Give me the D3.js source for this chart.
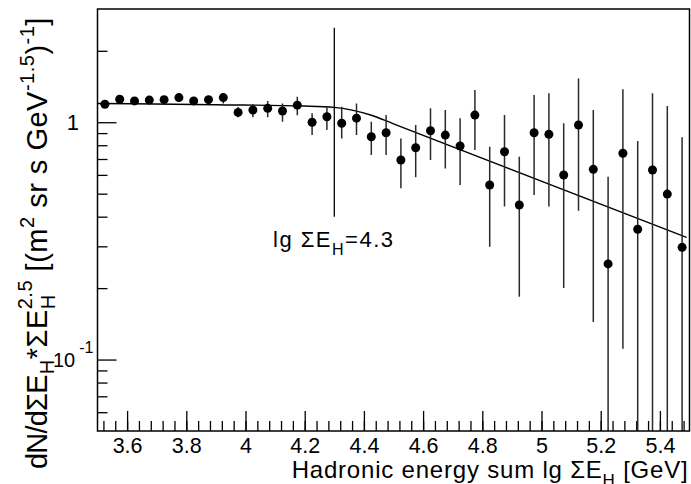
<!DOCTYPE html>
<html>
<head>
<meta charset="utf-8">
<script src="https://cdn.jsdelivr.net/npm/d3@7"></script>
<style>
  body { margin: 0; background: #fff; }
  text { font-family: "Liberation Sans", Arial, Helvetica, sans-serif; fill: #000; }
</style>
</head>
<body>
<div id="chart"></div>
<script>
// hadronic energy bins (lg sum E_H) and flux * E^2.5
const energy = [3.525, 3.575, 3.625, 3.675, 3.725, 3.775, 3.825, 3.875, 3.925, 3.975,
                4.025, 4.075, 4.125, 4.175, 4.225, 4.275, 4.325, 4.375, 4.425, 4.475,
                4.525, 4.575, 4.625, 4.675, 4.725, 4.775, 4.825, 4.875, 4.925, 4.975,
                5.025, 5.075, 5.125, 5.175, 5.225, 5.275, 5.325, 5.375, 5.425, 5.475]
const flux = [1.19, 1.25, 1.23, 1.24, 1.245, 1.27, 1.23, 1.245, 1.27, 1.10,
              1.126, 1.144, 1.115, 1.18, 1.00, 1.055, 0.99, 1.04, 0.869, 0.903,
              0.693, 0.781, 0.921, 0.883, 0.794, 1.072, 0.544, 0.751, 0.448, 0.903,
              0.889, 0.599, 0.973, 0.633, 0.253, 0.740, 0.354, 0.629, 0.498, 0.297]
const errLow = [1.16, 1.22, 1.20, 1.21, 1.215, 1.24, 1.20, 1.215, 1.20, 1.05,
                1.05, 1.05, 1.005, 1.07, 0.883, 0.927, 0.855, 0.883, 0.727, 0.727,
                0.527, 0.586, 0.693, 0.639, 0.544, 0.764, 0.299, 0.441, 0.184, 0.494,
                0.441, 0.20, 0.424, 0.144, 0.01, 0.111, 0.01, 0.01, 0.01, 0.01]
const errHigh = [1.22, 1.28, 1.26, 1.27, 1.275, 1.30, 1.26, 1.275, 1.32, 1.16,
                 1.19, 1.23, 1.20, 1.28, 1.09, 1.163, 1.163, 1.20, 1.005, 1.072,
                 0.855, 0.973, 1.144, 1.126, 1.039, 1.367, 0.788, 1.072, 0.716, 1.302,
                 1.324, 0.99, 1.53, 1.126, 0.589, 1.376, 0.833, 1.324, 1.17, 0.864]

// fitted broken power law
const fitE = [3.5, 3.9, 4.2, 4.3, 4.36, 4.42, 4.5, 5.49]
const fitFlux = [1.20, 1.185, 1.17, 1.155, 1.125, 1.075, 0.985, 0.327]

// knee marker
const kneeE = 4.3
const kneeRange = [0.4, 2.5]

const xMajor = [3.6, 3.8, 4, 4.2, 4.4, 4.6, 4.8, 5, 5.2, 5.4]
const xMinor = d3.range(3.52, 5.5, 0.04).map(d => +d.toFixed(2))
const yMajor = [0.1, 1]
const yMinor = [0.06, 0.07, 0.08, 0.09, 0.2, 0.3, 0.4, 0.5, 0.6, 0.7, 0.8, 0.9, 2]

const width = 691
const height = 484
const plot = { left: 97.5, right: 689.5, top: 9, bottom: 431 }

const svg = d3.select("#chart").append("svg")
  .attr("width", width)
  .attr("height", height)

const x = d3.scaleLinear().domain([3.5, 5.5]).range([plot.left, plot.right])
const y = d3.scaleLog().domain([0.05, 3]).range([plot.bottom, plot.top])

svg.append("clipPath").attr("id", "clip")
  .append("rect")
    .attr("x", plot.left).attr("y", plot.top)
    .attr("width", plot.right - plot.left)
    .attr("height", plot.bottom - plot.top)

// axes (ticks point inward)
const xAxisMinor = svg.append("g")
  .attr("transform", `translate(0,${plot.bottom})`)
  .call(d3.axisBottom(x).tickValues(xMinor).tickSize(-10).tickSizeOuter(0).tickFormat(""))
const xAxis = svg.append("g")
  .attr("transform", `translate(0,${plot.bottom})`)
  .call(d3.axisBottom(x).tickValues(xMajor).tickSize(-20).tickSizeOuter(0)
    .tickPadding(7).tickFormat(d3.format("~g")))
xAxis.selectAll("text").style("font-size", "21.5px")

const yAxisMinor = svg.append("g")
  .attr("transform", `translate(${plot.left},0)`)
  .call(d3.axisLeft(y).tickValues(yMinor).tickSize(-10).tickSizeOuter(0).tickFormat(""))
const yAxis = svg.append("g")
  .attr("transform", `translate(${plot.left},0)`)
  .call(d3.axisLeft(y).tickValues(yMajor).tickSize(-19).tickSizeOuter(0).tickFormat(""))

svg.selectAll(".domain").remove()
svg.selectAll(".tick line").attr("stroke", "#000").attr("stroke-width", 1.3)

// y tick labels: 1 and 10^-1
svg.append("text")
  .attr("x", 79).attr("y", y(1) + 8)
  .attr("text-anchor", "end")
  .style("font-size", "22px")
  .text("1")
const tenLabel = svg.append("text")
  .attr("x", 53).attr("y", y(0.1) + 7)
  .style("font-size", "20px")
tenLabel.append("tspan").text("10")
tenLabel.append("tspan").attr("dx", 4).attr("dy", -14)
  .style("font-size", "16px").text("-1")

// fit curve
const fitLine = d3.line()
  .x(d => x(d[0]))
  .y(d => y(d[1]))
  .curve(d3.curveMonotoneX)
svg.append("path")
  .attr("d", fitLine(fitE.map((e, i) => [e, fitFlux[i]])))
  .attr("fill", "none")
  .attr("stroke", "#000")
  .attr("stroke-width", 1.4)

// knee marker line
svg.append("line")
  .attr("x1", x(kneeE)).attr("x2", x(kneeE))
  .attr("y1", y(kneeRange[1])).attr("y2", y(kneeRange[0]))
  .attr("stroke", "#000")
  .attr("stroke-width", 1.3)

// error bars and points
const bars = svg.append("g").attr("clip-path", "url(#clip)")
bars.selectAll("line")
  .data(energy)
  .join("line")
    .attr("x1", d => x(d)).attr("x2", d => x(d))
    .attr("y1", (d, i) => y(Math.max(errLow[i], 0.04)))
    .attr("y2", (d, i) => y(errHigh[i]))
    .attr("stroke", "#2a2a2a")
    .attr("stroke-width", 1.5)

svg.append("g").selectAll("circle")
  .data(energy)
  .join("circle")
    .attr("cx", d => x(d))
    .attr("cy", (d, i) => y(flux[i]))
    .attr("r", 4.5)
    .attr("fill", "#000")

// frame
svg.append("rect")
  .attr("x", plot.left).attr("y", plot.top)
  .attr("width", plot.right - plot.left)
  .attr("height", plot.bottom - plot.top)
  .attr("fill", "none")
  .attr("stroke", "#000")
  .attr("stroke-width", 1.5)

// knee annotation
const kneeLabel = svg.append("text")
  .attr("x", 273).attr("y", 247)
  .style("font-size", "22px")
  .style("letter-spacing", "1.5px")
kneeLabel.append("tspan").text("lg ΣE")
kneeLabel.append("tspan").attr("dy", 8).style("font-size", "16px").text("H")
kneeLabel.append("tspan").attr("dy", -8).text("=4.3")

// x title
const xTitle = svg.append("text")
  .attr("x", plot.right - 1).attr("y", 478)
  .attr("text-anchor", "end")
  .style("font-size", "24px")
  .style("letter-spacing", "0.8px")
xTitle.append("tspan").text("Hadronic energy sum lg ΣE")
xTitle.append("tspan").attr("dy", 8).style("font-size", "17px").text("H")
xTitle.append("tspan").attr("dy", -8).text(" [GeV]")

// y title, anchored at its bottom end
const yTitle = svg.append("text")
  .attr("transform", "translate(47,469) rotate(-90)")
  .style("font-size", "29px")
  .style("letter-spacing", "0.5px")
yTitle.append("tspan").style("letter-spacing", "-0.8px").text("dN/dΣE")
yTitle.append("tspan").attr("dx", 1).attr("dy", 7).style("font-size", "20px").text("H")
yTitle.append("tspan").attr("dy", -7).text("*ΣE")
yTitle.append("tspan").attr("dy", 8).style("font-size", "20px").text("H")
yTitle.append("tspan").attr("dx", -15).attr("dy", -23).style("font-size", "20px").text("2.5")
yTitle.append("tspan").attr("dy", 15).text(" [(m")
yTitle.append("tspan").attr("dy", -13).style("font-size", "20px").text("2")
yTitle.append("tspan").attr("dy", 13).text(" sr s GeV")
yTitle.append("tspan").attr("dy", -13).style("font-size", "20px").text("-1.5")
yTitle.append("tspan").attr("dy", 13).text(")")
yTitle.append("tspan").attr("dy", -13).style("font-size", "20px").text("-1")
yTitle.append("tspan").attr("dy", 13).text("]")
</script>
</body>
</html>
